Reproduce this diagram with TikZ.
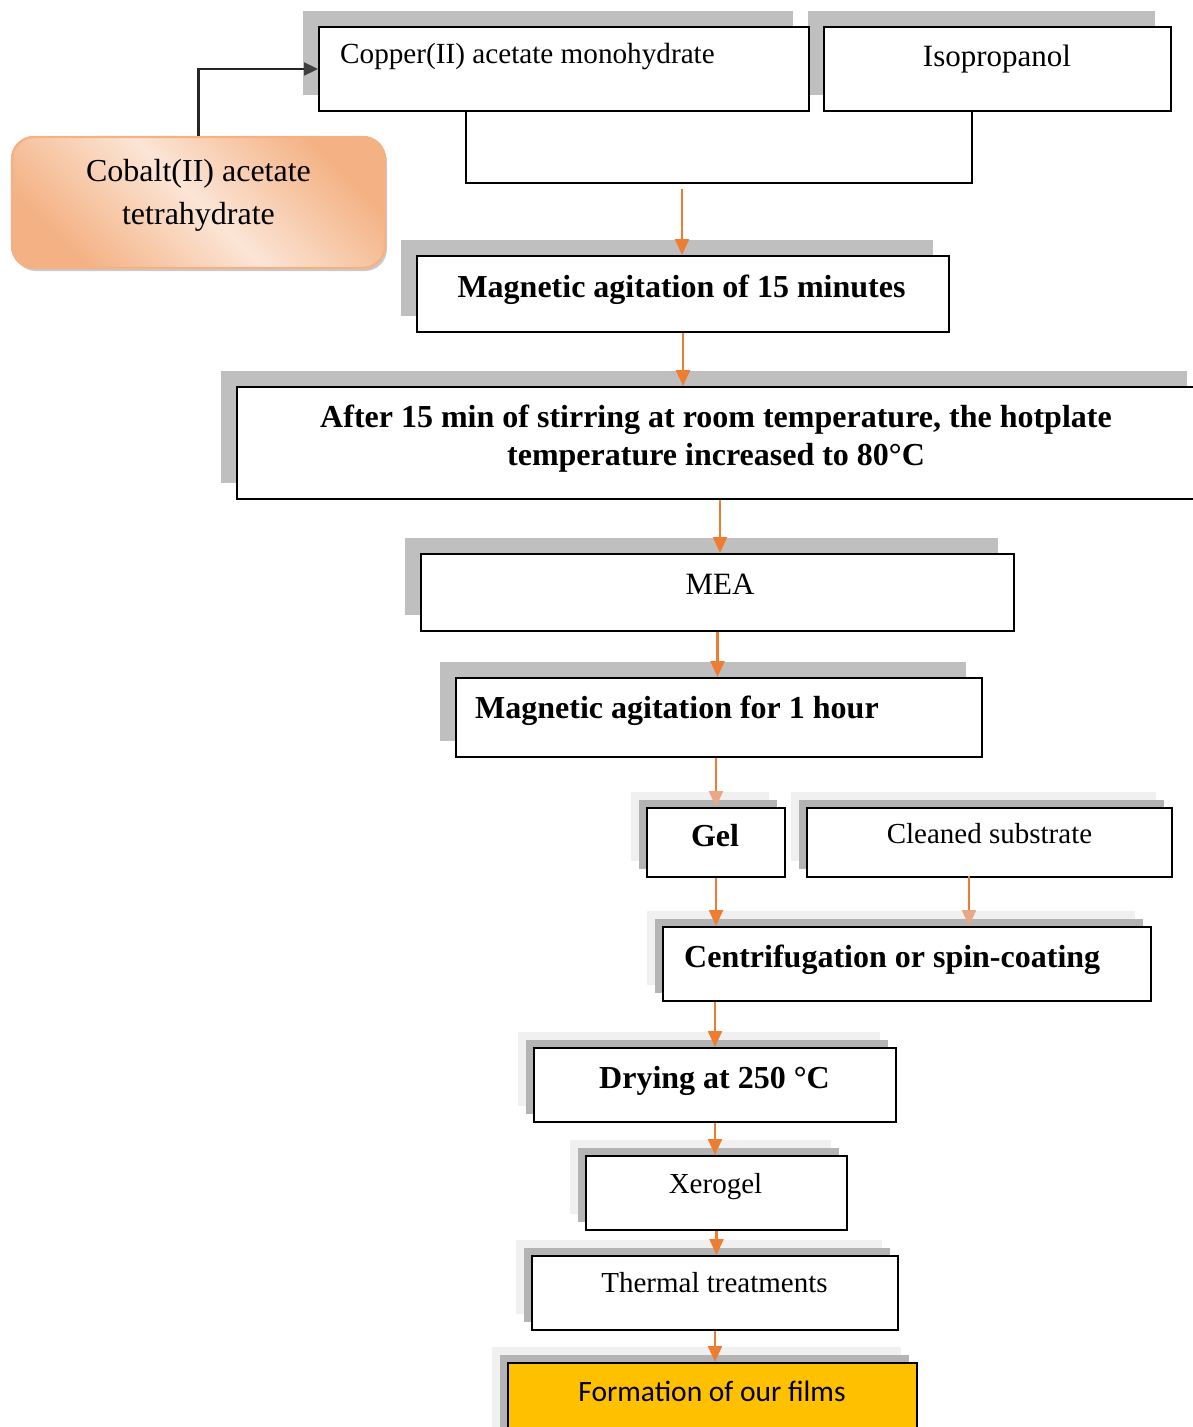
\documentclass[tikz,border=0pt]{standalone}
\usepackage{fontspec}
\setmainfont{Liberation Serif}
\newfontfamily\calibrifont{Carlito}
\usetikzlibrary{shadows,arrows.meta}
\definecolor{sgray}{HTML}{BFBFBF}
\definecolor{sdark}{HTML}{B4B4B4}
\definecolor{slight}{HTML}{F0F0F0}
\definecolor{oarr}{HTML}{ED7D31}
\definecolor{oarrl}{HTML}{E9A886}
\definecolor{peachd}{HTML}{F4B183}
\definecolor{peachl}{HTML}{FBE5D6}
\definecolor{gold}{HTML}{FFC000}
\tikzset{
 boxbase/.style={draw=black, line width=2pt, fill=white, inner sep=0pt, anchor=north west},
 singlebox/.style={boxbase, general shadow={fill=sgray, draw=none, shadow xshift=-16pt, shadow yshift=16pt}},
 doublebox/.style={boxbase, general shadow={fill=slight, draw=none, shadow xshift=-16pt, shadow yshift=16pt}, general shadow={fill=sdark, draw=none, shadow xshift=-8pt, shadow yshift=8pt}},
 sz/.style 2 args={minimum width=#1pt, minimum height=#2pt},
 txt/.style={inner sep=0pt, anchor=base},
 fs/.style={font=\fontsize{#1}{#1}\selectfont},
 fb/.style={font=\fontsize{#1}{#1}\selectfont\bfseries},
 oarrow/.style={draw=oarr, line width=2.3pt, -{Triangle[width=14pt,length=16pt]}},
 oarrowl/.style={draw=oarr, line width=2.3pt, -{Triangle[width=14pt,length=16pt,color=oarrl]}},
 darrow/.style={draw=black!85, line width=2.3pt, -{Triangle[width=13pt,length=14pt,color=black!75]}},
 joinline/.style={draw=black, line width=1.8pt},
 cobaltbox/.style={draw=peachd, line width=2.4pt, rounded corners=22pt, minimum width=373pt, minimum height=131pt,
   top color=peachd, bottom color=peachd, middle color=peachl, shading angle=-45,
   drop shadow={shadow xshift=2pt, shadow yshift=-3pt, fill=black!35, opacity=0.6}},
}
\begin{document}
\begin{tikzpicture}[x=1pt,y=-1pt]
\useasboundingbox (0,0) rectangle (1192,1427);
% top boxes
\node[singlebox, sz={347}{84}] (iso) at (823,26) {};
\node[singlebox, sz={490}{84}] (cu) at (318,26) {};
\node[txt, anchor=base west, fs=29.2] (cu-t) at (340,63) {Copper(II) acetate monohydrate};
\node[txt, fs=31] (iso-t) at (997,66) {Isopropanol};
% cobalt
\node[cobaltbox] (co) at (198.5,202.5) {};
\node[align=center, inner sep=0pt, font=\fontsize{32}{43}\selectfont] (co-t) at (198.5,195.5) {Cobalt(II) acetate\\tetrahydrate};
% join
\coordinate (j1) at (466,183);
\coordinate (j2) at (972,183);
\coordinate (j3) at (682,189);
\draw[joinline] (cu.south -| j1) -- (j1) -- (j2) -- (iso.south -| j2);
% main chain
\node[singlebox, sz={532}{76}] (m15) at (416,255) {};
\node[txt, fb=32] (m15-t) at (681.5,297) {Magnetic agitation of 15 minutes};
\node[singlebox, sz={966}{112}] (aft) at (236,386) {};
\node[txt, fb=32] (aft-t1) at (716,427) {After 15 min of stirring at room temperature, the hotplate};
\node[txt, fb=32] (aft-t2) at (716,465) {temperature increased to 80°C};
\node[singlebox, sz={593}{77}] (mea) at (420,553) {};
\node[txt, fs=31] (mea-t) at (720,594) {MEA};
\node[singlebox, sz={526}{79}] (hr) at (455,677) {};
\node[txt, anchor=base west, fb=32] (hr-t) at (475,718) {Magnetic agitation for 1 hour};
\node[doublebox, sz={138}{69}] (gel) at (646,807) {};
\node[txt, fb=32] (gel-t) at (715,846) {Gel};
\node[doublebox, sz={365}{69}] (cs) at (806,807) {};
\node[txt, fs=29] (cs-t) at (989.5,843) {Cleaned substrate};
\node[doublebox, sz={488}{74}] (cen) at (662,926) {};
\node[txt, anchor=base west, fb=32] (cen-t) at (684,967) {Centrifugation or spin-coating};
\node[doublebox, sz={362}{74}] (dry) at (533,1047) {};
\node[txt, fb=32] (dry-t) at (714.5,1088) {Drying at 250 °C};
\node[doublebox, sz={261}{74}] (xer) at (585,1155) {};
\node[txt, fs=29] (xer-t) at (715.5,1193) {Xerogel};
\node[doublebox, sz={366}{74}] (thm) at (531,1255) {};
\node[txt, fs=29] (thm-t) at (714.5,1292) {Thermal treatments};
\node[doublebox, fill=gold, sz={409}{80}] (frm) at (507,1362) {};
\node[txt, font=\fontsize{29.5}{29.5}\selectfont\calibrifont] (frm-t) at (712,1401) {Formation of our films};
% arrows
\draw[darrow] (co.north) |- (cu.west);
\draw[oarrow] (j3) -- (j3 |- m15.north);
\draw[oarrow] (m15.south) -- (m15.south |- aft.north);
\draw[oarrow] (aft.south) -- (aft.south |- mea.north);
\draw[oarrow] (mea.south) -- (mea.south |- hr.north);
\draw[oarrowl] (gel.north |- hr.south) -- (gel.north);
\draw[oarrow] (gel.south) -- (gel.south |- cen.north);
\coordinate (c1) at (969,876);
\draw[oarrowl] (c1) -- (c1 |- cen.north);
\draw[oarrow] (dry.north |- cen.south) -- (dry.north);
\draw[oarrow] (dry.south) -- (dry.south |- xer.north);
\draw[oarrow] (xer.south) -- (xer.south |- thm.north);
\draw[oarrow] (thm.south) -- (thm.south |- frm.north);
\end{tikzpicture}
\end{document}
